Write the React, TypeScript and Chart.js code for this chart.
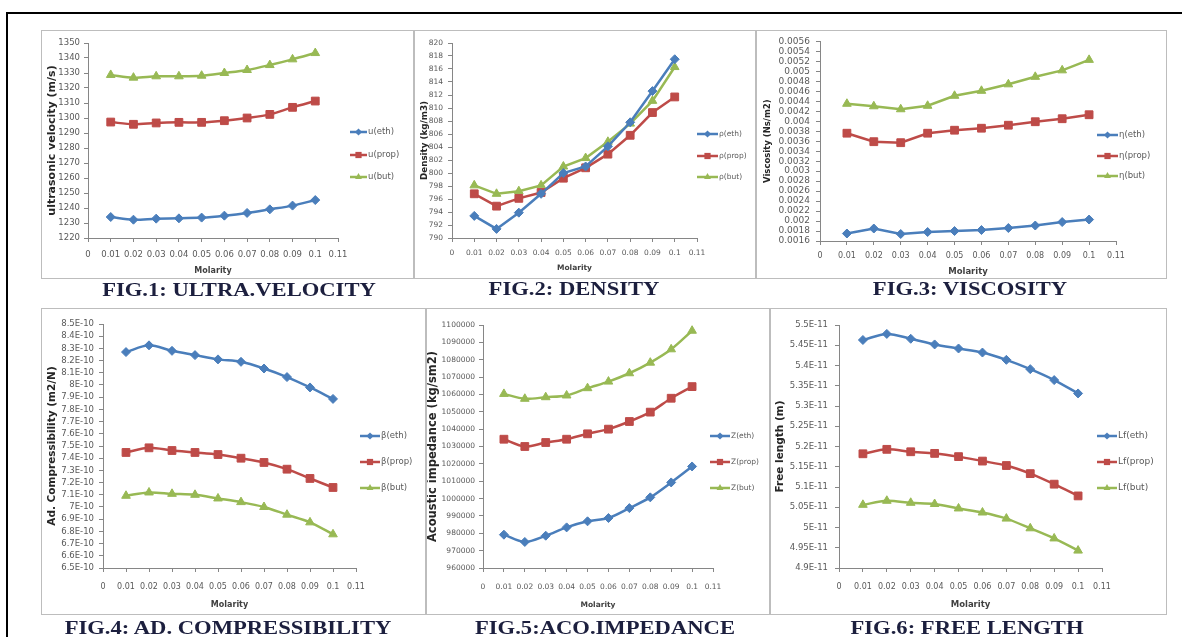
import React, { useEffect, useRef } from 'react';
import { Chart, registerables } from 'chart.js';

Chart.register(...registerables);

// ---------- data ----------
const MOLARITY = [0.01, 0.02, 0.03, 0.04, 0.05, 0.06, 0.07, 0.08, 0.09, 0.1];
const X_TICKS = [0, 0.01, 0.02, 0.03, 0.04, 0.05, 0.06, 0.07, 0.08, 0.09, 0.1, 0.11];

// ultrasonic velocity (m/s)
const U_ETH = [1234.0, 1232.2, 1232.9, 1233.1, 1233.6, 1234.9, 1236.7, 1239.1, 1241.6, 1245.3];
const U_PROP = [1297.3, 1295.8, 1296.7, 1297.1, 1297.1, 1298.2, 1300.0, 1302.4, 1307.1, 1311.3];
const U_BUT = [1328.7, 1326.9, 1327.8, 1327.8, 1328.2, 1330.0, 1332.0, 1335.3, 1339.1, 1343.3];

// density (kg/m3)
const RHO_ETH = [793.4, 791.4, 793.9, 796.8, 800.0, 801.0, 804.1, 807.8, 812.6, 817.5];
const RHO_PROP = [796.8, 794.9, 796.1, 797.0, 799.2, 800.8, 802.9, 805.8, 809.3, 811.7];
const RHO_BUT = [798.1, 796.8, 797.2, 798.1, 801.0, 802.3, 804.8, 807.6, 811.1, 816.3];

// viscosity (Ns/m2)
const ETA_ETH = [0.00175, 0.00185, 0.00174, 0.00178, 0.0018, 0.00182, 0.00186, 0.00191, 0.00198, 0.00203];
const ETA_PROP = [0.00376, 0.00359, 0.00357, 0.00376, 0.00382, 0.00386, 0.00392, 0.00399, 0.00405, 0.00413];
const ETA_BUT = [0.00435, 0.0043, 0.00424, 0.00431, 0.00451, 0.00461, 0.00474, 0.00489, 0.00502, 0.00523];

// adiabatic compressibility (m2/N)
const BETA_ETH = [8.27e-10, 8.325e-10, 8.28e-10, 8.245e-10, 8.21e-10, 8.19e-10, 8.135e-10, 8.065e-10, 7.98e-10, 7.886e-10];
const BETA_PROP = [7.447e-10, 7.485e-10, 7.463e-10, 7.447e-10, 7.43e-10, 7.4e-10, 7.365e-10, 7.31e-10, 7.234e-10, 7.16e-10];
const BETA_BUT = [7.092e-10, 7.119e-10, 7.108e-10, 7.1e-10, 7.07e-10, 7.04e-10, 7.0e-10, 6.937e-10, 6.874e-10, 6.776e-10];

// acoustic impedance (kg/sm2)
const Z_ETH = [979200, 975000, 978600, 983400, 986900, 988800, 994500, 1000700, 1009300, 1018500];
const Z_PROP = [1034200, 1030000, 1032300, 1034200, 1037300, 1040000, 1044400, 1049800, 1057800, 1064500];
const Z_BUT = [1060300, 1057500, 1058400, 1059400, 1063600, 1067400, 1072200, 1078300, 1086000, 1096700];

// intermolecular free length (m)
const LF_ETH = [5.463e-11, 5.478e-11, 5.466e-11, 5.452e-11, 5.442e-11, 5.432e-11, 5.414e-11, 5.391e-11, 5.364e-11, 5.331e-11];
const LF_PROP = [5.182e-11, 5.193e-11, 5.187e-11, 5.183e-11, 5.175e-11, 5.164e-11, 5.153e-11, 5.133e-11, 5.107e-11, 5.078e-11];
const LF_BUT = [5.056e-11, 5.066e-11, 5.061e-11, 5.058e-11, 5.047e-11, 5.037e-11, 5.022e-11, 4.998e-11, 4.973e-11, 4.943e-11];

// ---------- styling ----------
const FONT = '"DejaVu Sans", sans-serif';
const AXIS_COLOR = '#868686';
const TICK_TEXT = '#595959';
const TITLE_TEXT = '#262626';
const TICK_LEN = 4;

const SERIES_STYLE = [
  { color: '#4a7ebb', point: 'rectRot', radius: 4.5 },
  { color: '#be4b48', point: 'rect', radius: 5.5 },
  { color: '#98b954', point: 'triangle', radius: 5 },
];

const plain = (v: number) => String(+v.toFixed(6));
const sci10 = (v: number) => `${+(v * 1e10).toFixed(2)}E-10`;
const sci11 = (v: number) => `${+(v * 1e11).toFixed(2)}E-11`;

interface PanelSpec {
  box: [number, number, number, number]; // left, top, width, height on the page
  plot: [number, number, number, number]; // left, right, top, bottom inside the panel
  yTitle: string;
  yTitleSize: number;
  yTitleX: number;
  xTitleSize: number;
  xTitleY: number;
  yMin: number;
  yMax: number;
  yStep: number;
  yFormat: (v: number) => string;
  yTickSize: number;
  yTickGap: number;
  xTickSize: number;
  xTickDrop: number;
  tension: number;
  labels: string[];
  values: number[][];
  legend: { x: number; rows: number[]; len: number; size: number };
}

const PANELS: PanelSpec[] = [
  {
    box: [41, 30, 373, 249], plot: [47, 297, 13, 208],
    yTitle: 'ultrasonic velocity (m/s)', yTitleSize: 11, yTitleX: 11,
    xTitleSize: 8, xTitleY: 241,
    yMin: 1220, yMax: 1350, yStep: 10, yFormat: plain,
    yTickSize: 8.5, yTickGap: 8, xTickSize: 8.5, xTickDrop: 17, tension: 0.3,
    labels: ['u(eth)', 'u(prop)', 'u(but)'], values: [U_ETH, U_PROP, U_BUT],
    legend: { x: 309, rows: [102, 125, 147], len: 17, size: 8.5 },
  },
  {
    box: [414, 30, 342, 249], plot: [38, 283, 13, 208],
    yTitle: 'Density (kg/m3)', yTitleSize: 8.75, yTitleX: 11,
    xTitleSize: 7.5, xTitleY: 238,
    yMin: 790, yMax: 820, yStep: 2, yFormat: plain,
    yTickSize: 7.5, yTickGap: 9, xTickSize: 7.5, xTickDrop: 15, tension: 0,
    labels: ['ρ(eth)', 'ρ(prop)', 'ρ(but)'], values: [RHO_ETH, RHO_PROP, RHO_BUT],
    legend: { x: 283, rows: [104, 126, 147], len: 21, size: 7.5 },
  },
  {
    box: [756, 30, 411, 249], plot: [64, 360, 8, 211],
    yTitle: 'Viscosity (Ns/m2)', yTitleSize: 8.5, yTitleX: 12,
    xTitleSize: 8.5, xTitleY: 242,
    yMin: 0.0016, yMax: 0.0056, yStep: 0.0002, yFormat: plain,
    yTickSize: 9, yTickGap: 10, xTickSize: 8, xTickDrop: 15, tension: 0,
    labels: ['η(eth)', 'η(prop)', 'η(but)'], values: [ETA_ETH, ETA_PROP, ETA_BUT],
    legend: { x: 341, rows: [105, 126, 146], len: 21, size: 8.5 },
  },
  {
    box: [41, 308, 385, 307], plot: [62, 315, 16, 260],
    yTitle: 'Ad. Compressibility (m2/N)', yTitleSize: 10.5, yTitleX: 11,
    xTitleSize: 8, xTitleY: 297,
    yMin: 6.5e-10, yMax: 8.5e-10, yStep: 1e-11, yFormat: sci10,
    yTickSize: 8.5, yTickGap: 9, xTickSize: 8, xTickDrop: 19, tension: 0.3,
    labels: ['β(eth)', 'β(prop)', 'β(but)'], values: [BETA_ETH, BETA_PROP, BETA_BUT],
    legend: { x: 319, rows: [128, 154, 180], len: 20, size: 8.5 },
  },
  {
    box: [426, 308, 344, 307], plot: [57, 287, 17, 260],
    yTitle: 'Acoustic impedance (kg/sm2)', yTitleSize: 11.5, yTitleX: 7,
    xTitleSize: 7.5, xTitleY: 297,
    yMin: 960000, yMax: 1100000, yStep: 10000, yFormat: plain,
    yTickSize: 7.5, yTickGap: 8, xTickSize: 7.5, xTickDrop: 19, tension: 0.3,
    labels: ['Z(eth)', 'Z(prop)', 'Z(but)'], values: [Z_ETH, Z_PROP, Z_BUT],
    legend: { x: 284, rows: [128, 154, 180], len: 20, size: 7.5 },
  },
  {
    box: [770, 308, 397, 307], plot: [69, 332, 17, 260],
    yTitle: 'Free length (m)', yTitleSize: 10.5, yTitleX: 10,
    xTitleSize: 8.5, xTitleY: 297,
    yMin: 4.9e-11, yMax: 5.5e-11, yStep: 5e-13, yFormat: sci11,
    yTickSize: 8.5, yTickGap: 11, xTickSize: 8, xTickDrop: 19, tension: 0.3,
    labels: ['Lf(eth)', 'Lf(prop)', 'Lf(but)'], values: [LF_ETH, LF_PROP, LF_BUT],
    legend: { x: 327, rows: [128, 154, 180], len: 20, size: 9 },
  },
];

const CAPTIONS = [
  { text: 'FIG.1: ULTRA.VELOCITY', x: 238.5, y: 289 },
  { text: 'FIG.2: DENSITY', x: 573.5, y: 288 },
  { text: 'FIG.3: VISCOSITY', x: 970, y: 288 },
  { text: 'FIG.4: AD. COMPRESSIBILITY', x: 227.5, y: 627 },
  { text: 'FIG.5:ACO.IMPEDANCE', x: 604.5, y: 627 },
  { text: 'FIG.6: FREE LENGTH', x: 967, y: 627 },
];

// ---------- legend drawn beside each plot ----------
function drawMarker(ctx: CanvasRenderingContext2D, style: string, x: number, y: number, r: number) {
  ctx.beginPath();
  if (style === 'rectRot') {
    ctx.moveTo(x - r, y);
    ctx.lineTo(x, y - r);
    ctx.lineTo(x + r, y);
    ctx.lineTo(x, y + r);
  } else if (style === 'rect') {
    const s = Math.SQRT1_2 * r;
    ctx.rect(x - s, y - s, 2 * s, 2 * s);
  } else {
    let a = 0;
    ctx.moveTo(x + Math.sin(a) * r, y - Math.cos(a) * r);
    a += (2 * Math.PI) / 3;
    ctx.lineTo(x + Math.sin(a) * r, y - Math.cos(a) * r);
    a += (2 * Math.PI) / 3;
    ctx.lineTo(x + Math.sin(a) * r, y - Math.cos(a) * r);
  }
  ctx.closePath();
  ctx.fill();
}

const seriesLegend = {
  id: 'seriesLegend',
  afterDraw(chart: any, _args: any, opts: any) {
    const { ctx } = chart;
    const x: number = opts.x;
    const len: number = opts.len;
    chart.data.datasets.forEach((ds: any, i: number) => {
      const y: number = opts.rows[i];
      const st = SERIES_STYLE[i];
      ctx.save();
      ctx.strokeStyle = st.color;
      ctx.fillStyle = st.color;
      ctx.lineWidth = 2.5;
      ctx.beginPath();
      ctx.moveTo(x, y);
      ctx.lineTo(x + len, y);
      ctx.stroke();
      drawMarker(ctx, st.point, x + len / 2, y, st.radius * 0.8);
      ctx.fillStyle = TICK_TEXT;
      ctx.font = `${opts.size}px ${FONT}`;
      ctx.textAlign = 'left';
      ctx.textBaseline = 'middle';
      ctx.fillText(ds.label, x + len + 1, y);
      ctx.restore();
    });
  },
};

function buildConfig(p: PanelSpec): any {
  const W = p.box[2];
  const H = p.box[3];
  const [L, R, T, B] = p.plot;
  const padLeft = p.yTitleX - (p.yTitleSize * 1.2) / 2;
  const padBottom = H - p.xTitleY - (p.xTitleSize * 1.2) / 2;
  const yWidth = L - padLeft;
  const xHeight = H - padBottom - B;
  const xTickPad = p.xTickDrop - TICK_LEN - (p.xTickSize * 1.2) / 2;

  return {
    type: 'line',
    data: {
      datasets: p.values.map((vals, i) => ({
        label: p.labels[i],
        data: MOLARITY.map((m, j) => ({ x: m, y: vals[j] })),
        borderColor: SERIES_STYLE[i].color,
        backgroundColor: SERIES_STYLE[i].color,
        borderWidth: 2.5,
        pointStyle: SERIES_STYLE[i].point,
        pointRadius: SERIES_STYLE[i].radius,
        pointBorderWidth: 1,
        tension: p.tension,
        fill: false,
      })),
    },
    options: {
      responsive: false,
      animation: false,
      events: [],
      layout: { padding: { left: padLeft, top: T, right: W - R, bottom: padBottom } },
      plugins: {
        legend: { display: false },
        tooltip: { enabled: false },
        seriesLegend: p.legend,
      },
      scales: {
        x: {
          type: 'linear',
          min: 0,
          max: 0.11,
          afterBuildTicks: (ax: any) => {
            ax.ticks = X_TICKS.map((v) => ({ value: v }));
          },
          afterFit: (s: any) => {
            s.height = xHeight;
          },
          ticks: {
            autoSkip: false,
            maxRotation: 0,
            minRotation: 0,
            padding: xTickPad,
            color: TICK_TEXT,
            font: { family: FONT, size: p.xTickSize },
            callback: (v: any) => String(+Number(v).toFixed(2)),
          },
          grid: { drawOnChartArea: false, drawTicks: true, tickLength: TICK_LEN, color: AXIS_COLOR },
          border: { display: true, color: AXIS_COLOR, width: 1 },
          title: {
            display: true,
            text: 'Molarity',
            color: '#404040',
            padding: 0,
            font: { family: FONT, size: p.xTitleSize, weight: 'bold' },
          },
        },
        y: {
          type: 'linear',
          min: p.yMin,
          max: p.yMax,
          afterBuildTicks: (ax: any) => {
            const n = Math.round((p.yMax - p.yMin) / p.yStep);
            ax.ticks = Array.from({ length: n + 1 }, (_, i) => ({ value: p.yMin + i * p.yStep }));
          },
          afterFit: (s: any) => {
            s.width = yWidth;
          },
          ticks: {
            autoSkip: false,
            padding: p.yTickGap - TICK_LEN,
            color: TICK_TEXT,
            font: { family: FONT, size: p.yTickSize },
            callback: (v: any) => p.yFormat(Number(v)),
          },
          grid: { drawOnChartArea: false, drawTicks: true, tickLength: TICK_LEN, color: AXIS_COLOR },
          border: { display: true, color: AXIS_COLOR, width: 1 },
          title: {
            display: true,
            text: p.yTitle,
            color: TITLE_TEXT,
            padding: 0,
            font: { family: FONT, size: p.yTitleSize, weight: 'bold' },
          },
        },
      },
    },
    plugins: [seriesLegend],
  };
}

function Panel({ spec }: { spec: PanelSpec }) {
  const ref = useRef<HTMLCanvasElement>(null);
  useEffect(() => {
    if (!ref.current) return;
    const chart = new Chart(ref.current, buildConfig(spec));
    return () => chart.destroy();
  }, [spec]);
  const [left, top, width, height] = spec.box;
  return (
    <div style={{ position: 'absolute', left, top, width, height, background: '#fff' }}>
      <canvas ref={ref} width={width} height={height} style={{ position: 'absolute', left: 0, top: 0 }} />
      <div
        style={{
          position: 'absolute',
          left: 0,
          top: 0,
          width,
          height,
          boxSizing: 'border-box',
          border: '1.5px solid #bdbdbd',
          pointerEvents: 'none',
        }}
      />
    </div>
  );
}

export default function App() {
  return (
    <div
      style={{
        position: 'absolute',
        left: 0,
        top: 0,
        width: 1182,
        height: 637,
        background: '#ffffff',
        overflow: 'hidden',
      }}
    >
      <div style={{ position: 'absolute', left: 6, top: 12, width: 1176, height: 2, background: '#000' }} />
      <div style={{ position: 'absolute', left: 6, top: 12, width: 2, height: 625, background: '#000' }} />
      {PANELS.map((p, i) => (
        <Panel key={i} spec={p} />
      ))}
      {CAPTIONS.map((c, i) => (
        <div
          key={i}
          style={{
            position: 'absolute',
            left: c.x,
            top: c.y,
            transform: 'translate(-50%, -50%) scaleX(1.19)',
            whiteSpace: 'nowrap',
            fontFamily: '"Liberation Serif", "Times New Roman", serif',
            fontWeight: 'bold',
            fontSize: 19,
            lineHeight: 1,
            color: '#1c1f3e',
          }}
        >
          {c.text}
        </div>
      ))}
    </div>
  );
}
